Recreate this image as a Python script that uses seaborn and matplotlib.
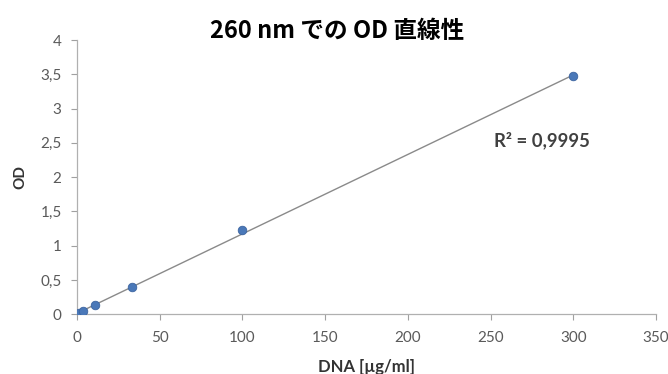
import matplotlib
matplotlib.use("Agg")
import matplotlib.pyplot as plt
import seaborn as sns
import numpy as np
import pandas as pd

dna = [0.41, 1.23, 3.7, 11.1, 33.3, 100, 300]
od = [0.005, 0.015, 0.04, 0.13, 0.40, 1.23, 3.47]
x_ticks = [0, 50, 100, 150, 200, 250, 300, 350]
y_ticks = [0, 0.5, 1, 1.5, 2, 2.5, 3, 3.5, 4]
title = "260 nm での OD 直線性"
r2_text = "R² = 0,9995"

sns.set_theme(style="white")
plt.rcParams['font.family'] = ['Lato', 'DejaVu Sans']

df = pd.DataFrame({"dna": dna, "od": od})

fig = plt.figure(figsize=(6.68, 3.74), dpi=100)
ax = fig.add_axes([0.115, 0.160, 0.867, 0.733])

sns.regplot(data=df, x="dna", y="od", ax=ax, ci=None, truncate=True,
            scatter_kws=dict(s=38, color="#4a78b8", edgecolor="#3c64a0", linewidths=0.6, zorder=3, alpha=1),
            line_kws=dict(color="#8a8a8a", lw=1.0, zorder=2))

ax.set_xlim(0, 350)
ax.set_ylim(0, 4)
ax.set_xticks(x_ticks)
ax.set_yticks(y_ticks)
ax.set_xticklabels([str(v) for v in x_ticks])
ax.set_yticklabels([("%g" % v).replace(".", ",") for v in y_ticks])
ax.tick_params(axis="both", colors="#a0a0a0", labelcolor="#5a5a5a", labelsize=11,
               length=4, width=0.8, direction="out", bottom=True, left=True)
ax.tick_params(axis="x", pad=8)
ax.tick_params(axis="y", pad=7)
for s in ["top", "right"]:
    ax.spines[s].set_visible(False)
for s in ["left", "bottom"]:
    ax.spines[s].set_color("#b0b0b0")
    ax.spines[s].set_linewidth(0.9)

ax.set_xlabel("DNA [µg/ml]", fontsize=12, fontweight="bold", color="#333333", labelpad=10)
ax.set_ylabel("OD", fontsize=11, fontweight="bold", color="#333333", labelpad=9)

ax.text(281, 2.53, r2_text, fontsize=13.3, fontweight="bold", color="#404040",
        ha="center", va="center")

fig.text(0.504, 0.917, title, ha="center", va="center", fontsize=17, fontweight="bold",
         color="black", family=['Noto Sans CJK JP', 'DejaVu Sans'])

fig.savefig("out.png", dpi=100, facecolor="white")
